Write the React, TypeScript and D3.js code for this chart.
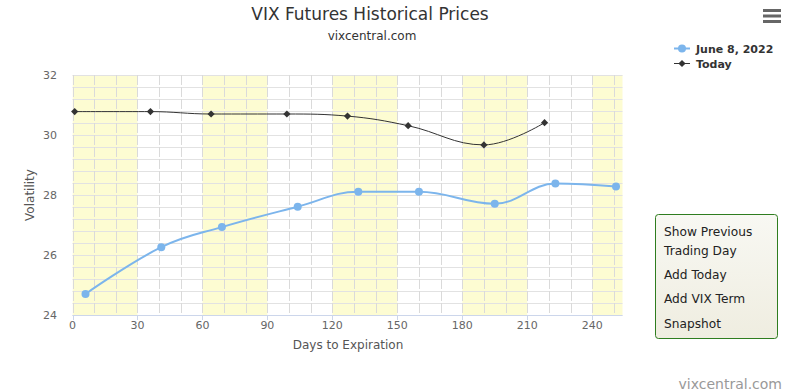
import * as d3 from "d3";

// days to expiration / settle for each contract
const junDays = [6, 41, 69, 104, 132, 160, 195, 223, 251];
const junVals = [24.7, 26.26, 26.93, 27.61, 28.11, 28.11, 27.71, 28.38, 28.28];
const todayDays = [1, 36, 64, 99, 127, 155, 190, 218];
const todayVals = [30.78, 30.78, 30.7, 30.7, 30.63, 30.31, 29.67, 30.41];

const xTicks = [0, 30, 60, 90, 120, 150, 180, 210, 240];
const yTicks = [24, 26, 28, 30, 32];
const bands = [[0, 30], [60, 90], [120, 150], [180, 210], [240, 270]];
const menuItems = ["Show Previous", "Trading Day", "Add Today", "Add VIX Term", "Snapshot"];
const legendNames = ["June 8, 2022", "Today"];

const W = 790, H = 392;
const left = 72.5, right = 622.5, top = 75, bottom = 315;
const font = "'DejaVu Sans', sans-serif";

const x = d3.scaleLinear().domain([0, 254]).range([left, right]);
const y = d3.scaleLinear().domain([24, 32]).range([bottom, top]);

// highcharts-style spline
function spline(pts: [number, number][]) {
  const p = d3.path();
  const sm = 1.5, den = sm + 1;
  const conts = pts.map((pt, i) => {
    if (i === 0 || i === pts.length - 1) return null;
    const [lx, ly] = pts[i - 1];
    const [nx, ny] = pts[i + 1];
    const [px, py] = pt;
    let lcx = (sm * px + lx) / den, lcy = (sm * py + ly) / den;
    let rcx = (sm * px + nx) / den, rcy = (sm * py + ny) / den;
    if (rcx !== lcx) {
      const c = ((rcy - lcy) * (rcx - px)) / (rcx - lcx) + py - rcy;
      lcy += c; rcy += c;
      if (lcy > ly && lcy > py) { lcy = Math.max(ly, py); rcy = 2 * py - lcy; }
      else if (lcy < ly && lcy < py) { lcy = Math.min(ly, py); rcy = 2 * py - lcy; }
      if (rcy > ny && rcy > py) { rcy = Math.max(ny, py); lcy = 2 * py - rcy; }
      else if (rcy < ny && rcy < py) { rcy = Math.min(ny, py); lcy = 2 * py - rcy; }
    }
    return { lcx, lcy, rcx, rcy };
  });
  pts.forEach((pt, i) => {
    if (i === 0) { p.moveTo(pt[0], pt[1]); return; }
    const prev = conts[i - 1];
    const cur = conts[i];
    const c1x = prev ? prev.rcx : pts[i - 1][0];
    const c1y = prev ? prev.rcy : pts[i - 1][1];
    const c2x = cur ? cur.lcx : pt[0];
    const c2y = cur ? cur.lcy : pt[1];
    p.bezierCurveTo(c1x, c1y, c2x, c2y, pt[0], pt[1]);
  });
  return p.toString();
}

// square turned 45deg, like the highcharts diamond marker
const diamond = d3.symbol(d3.symbolSquare, 26);

export default function App() {
  const junPts = junDays.map((d, i) => [x(d), y(junVals[i])] as [number, number]);
  const todPts = todayDays.map((d, i) => [x(d), y(todayVals[i])] as [number, number]);
  const hLines = d3.range(24, 32.001, 0.4);
  const vLines = d3.range(0, 255, 10);
  return (
    <svg width={W} height={H} style={{ position: "absolute", left: 0, top: 0, fontFamily: font }}>
      <defs>
        <linearGradient id="menuGrad" x1="0" y1="0" x2="0" y2="1">
          <stop offset="0" stopColor="#f8f8f3" />
          <stop offset="1" stopColor="#efede0" />
        </linearGradient>
        <clipPath id="plotClip">
          <rect x={left} y={top} width={right - left} height={bottom - top} />
        </clipPath>
      </defs>
      <rect width={W} height={H} fill="#fff" />
      <text x={370} y={20} textAnchor="middle" fontSize={17} fill="#333">VIX Futures Historical Prices</text>
      <text x={372} y={40} textAnchor="middle" fontSize={12} fill="#333">vixcentral.com</text>

      <g clipPath="url(#plotClip)">
        {bands.map(([a, b]) => (
          <rect key={a} x={x(a)} y={top} width={x(b) - x(a)} height={bottom - top} fill="#fdfcd2" />
        ))}
      </g>
      {hLines.map((v) => (
        <line key={"h" + v} x1={left} x2={right} y1={Math.round(y(v)) + 0.5} y2={Math.round(y(v)) + 0.5} stroke="#e2e2e2" />
      ))}
      {vLines.map((v) => (
        <line key={"v" + v} x1={Math.round(x(v)) + 0.5} x2={Math.round(x(v)) + 0.5} y1={top} y2={bottom} stroke="#dadada" strokeDasharray="10,2" />
      ))}
      <line x1={left} x2={right} y1={bottom + 0.5} y2={bottom + 0.5} stroke="#ccd6eb" />
      {xTicks.map((t) => (
        <g key={"xt" + t}>
          <line x1={Math.round(x(t)) + 0.5} x2={Math.round(x(t)) + 0.5} y1={bottom} y2={bottom + 5} stroke="#ccd6eb" />
          <text x={x(t)} y={329} textAnchor="middle" fontSize={11} fill="#666">{t}</text>
        </g>
      ))}
      {yTicks.map((t) => (
        <text key={"yt" + t} x={57} y={y(t) + 4} textAnchor="end" fontSize={11} fill="#666">{t}</text>
      ))}
      <text x={348} y={349} textAnchor="middle" fontSize={12} fill="#555">Days to Expiration</text>
      <text transform={`translate(34,${(top + bottom) / 2}) rotate(-90)`} textAnchor="middle" fontSize={12} fill="#555">Volatility</text>

      <path d={spline(todPts)} fill="none" stroke="#333" strokeWidth={1} />
      {todPts.map(([px, py], i) => (
        <path key={"td" + i} d={diamond() as string} transform={`translate(${px},${py}) rotate(45)`} fill="#333" />
      ))}
      <path d={spline(junPts)} fill="none" stroke="#7cb5ec" strokeWidth={2} />
      {junPts.map(([px, py], i) => (
        <circle key={"jc" + i} cx={px} cy={py} r={4} fill="#7cb5ec" />
      ))}

      {/* legend */}
      <line x1={674} x2={690} y1={48.5} y2={48.5} stroke="#7cb5ec" strokeWidth={2} />
      <circle cx={682} cy={48.5} r={4} fill="#7cb5ec" />
      <text x={696} y={53} fontSize={11} fontWeight="bold" fill="#333">{legendNames[0]}</text>
      <line x1={674} x2={690} y1={63.5} y2={63.5} stroke="#333" strokeWidth={1} />
      <path d={diamond() as string} transform="translate(682,63.5) rotate(45)" fill="#333" />
      <text x={696} y={68} fontSize={11} fontWeight="bold" fill="#333">{legendNames[1]}</text>

      {/* menu icon */}
      {[10.5, 16, 21.5].map((yy) => (
        <rect key={yy} x={763} y={yy - 1.5} width={18} height={3} fill="#666" />
      ))}

      {/* side menu */}
      <rect x={655.5} y={214.5} width={122} height={124} rx={3} fill="url(#menuGrad)" stroke="#2f7d1f" />
      {menuItems.map((m, i) => (
        <text key={m} x={664} y={[236, 255, 279, 303, 328][i]} fontSize={12.2} fill="#222">{m}</text>
      ))}

      <text x={782} y={389} textAnchor="end" fontSize={14} fill="#999">vixcentral.com</text>
    </svg>
  );
}
